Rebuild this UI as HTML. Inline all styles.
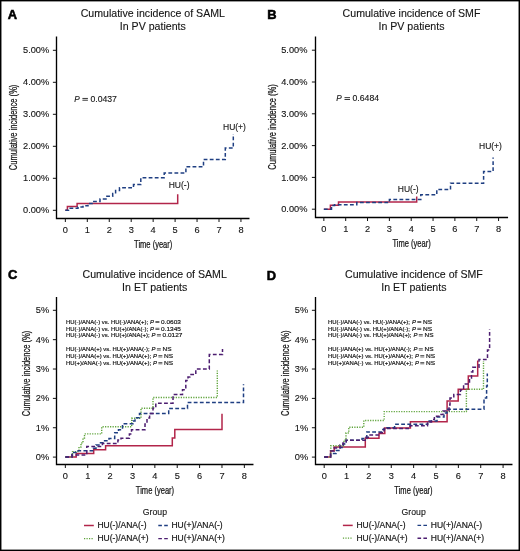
<!DOCTYPE html>
<html><head><meta charset="utf-8"><style>
html,body{margin:0;padding:0;background:#fff;width:520px;height:551px;overflow:hidden}
svg{will-change:transform}
text{font-family:'Liberation Sans', sans-serif}
.sm{stroke:#151515;stroke-width:0.18px}
.md{stroke:#151515;stroke-width:0.12px}
</style></head><body>
<svg width="520" height="551" viewBox="0 0 520 551" style="position:absolute;left:0;top:0">
<g font-family="'Liberation Sans', sans-serif">
<rect x="0" y="0" width="520" height="551" fill="#fff"/>
<path d="M56.50,37.10 L56.50,218.50 L248.80,218.50" fill="none" stroke="#000" stroke-width="1.35" stroke-linecap="square"/>
<line x1="52.90" y1="210.30" x2="56.50" y2="210.30" stroke="#111" stroke-width="1"/>
<text transform="translate(49.20,213.40) scale(1.05,1)" font-size="8.8" text-anchor="end" fill="#151515" class="md">0.00%</text>
<line x1="52.90" y1="178.30" x2="56.50" y2="178.30" stroke="#111" stroke-width="1"/>
<text transform="translate(49.20,181.40) scale(1.05,1)" font-size="8.8" text-anchor="end" fill="#151515" class="md">1.00%</text>
<line x1="52.90" y1="146.30" x2="56.50" y2="146.30" stroke="#111" stroke-width="1"/>
<text transform="translate(49.20,149.40) scale(1.05,1)" font-size="8.8" text-anchor="end" fill="#151515" class="md">2.00%</text>
<line x1="52.90" y1="114.30" x2="56.50" y2="114.30" stroke="#111" stroke-width="1"/>
<text transform="translate(49.20,117.40) scale(1.05,1)" font-size="8.8" text-anchor="end" fill="#151515" class="md">3.00%</text>
<line x1="52.90" y1="82.30" x2="56.50" y2="82.30" stroke="#111" stroke-width="1"/>
<text transform="translate(49.20,85.40) scale(1.05,1)" font-size="8.8" text-anchor="end" fill="#151515" class="md">4.00%</text>
<line x1="52.90" y1="50.30" x2="56.50" y2="50.30" stroke="#111" stroke-width="1"/>
<text transform="translate(49.20,53.40) scale(1.05,1)" font-size="8.8" text-anchor="end" fill="#151515" class="md">5.00%</text>
<line x1="65.35" y1="218.50" x2="65.35" y2="222.00" stroke="#111" stroke-width="1"/>
<text transform="translate(65.35,233.10) scale(1.05,1)" font-size="8.8" text-anchor="middle" fill="#151515" class="md">0</text>
<line x1="87.30" y1="218.50" x2="87.30" y2="222.00" stroke="#111" stroke-width="1"/>
<text transform="translate(87.30,233.10) scale(1.05,1)" font-size="8.8" text-anchor="middle" fill="#151515" class="md">1</text>
<line x1="109.25" y1="218.50" x2="109.25" y2="222.00" stroke="#111" stroke-width="1"/>
<text transform="translate(109.25,233.10) scale(1.05,1)" font-size="8.8" text-anchor="middle" fill="#151515" class="md">2</text>
<line x1="131.20" y1="218.50" x2="131.20" y2="222.00" stroke="#111" stroke-width="1"/>
<text transform="translate(131.20,233.10) scale(1.05,1)" font-size="8.8" text-anchor="middle" fill="#151515" class="md">3</text>
<line x1="153.15" y1="218.50" x2="153.15" y2="222.00" stroke="#111" stroke-width="1"/>
<text transform="translate(153.15,233.10) scale(1.05,1)" font-size="8.8" text-anchor="middle" fill="#151515" class="md">4</text>
<line x1="175.10" y1="218.50" x2="175.10" y2="222.00" stroke="#111" stroke-width="1"/>
<text transform="translate(175.10,233.10) scale(1.05,1)" font-size="8.8" text-anchor="middle" fill="#151515" class="md">5</text>
<line x1="197.05" y1="218.50" x2="197.05" y2="222.00" stroke="#111" stroke-width="1"/>
<text transform="translate(197.05,233.10) scale(1.05,1)" font-size="8.8" text-anchor="middle" fill="#151515" class="md">6</text>
<line x1="219.00" y1="218.50" x2="219.00" y2="222.00" stroke="#111" stroke-width="1"/>
<text transform="translate(219.00,233.10) scale(1.05,1)" font-size="8.8" text-anchor="middle" fill="#151515" class="md">7</text>
<line x1="240.95" y1="218.50" x2="240.95" y2="222.00" stroke="#111" stroke-width="1"/>
<text transform="translate(240.95,233.10) scale(1.05,1)" font-size="8.8" text-anchor="middle" fill="#151515" class="md">8</text>
<text transform="translate(153.20,247.60) scale(0.72,1)" x="0" y="0" font-size="10.5" text-anchor="middle" fill="#151515" stroke="#151515" stroke-width="0.25">Time (year)</text>
<text transform="translate(17.40,127.40) rotate(-90) scale(0.72,1)" x="0" y="0" font-size="10.5" text-anchor="middle" fill="#151515" stroke="#151515" stroke-width="0.25">Cumulative incidence (%)</text>
<text x="152.80" y="17.10" font-size="10.6" text-anchor="middle" font-weight="normal" fill="#151515"  style="" class="md">Cumulative incidence of SAML</text>
<text x="152.80" y="30.20" font-size="10.6" text-anchor="middle" font-weight="normal" fill="#151515"  style="" class="md">In PV patients</text>
<text x="7.80" y="18.80" font-size="12.9" text-anchor="start" font-weight="bold" fill="#000" stroke="#000" stroke-width="0.55" style="">A</text>
<path d="M315.50,37.10 L315.50,217.50 L507.40,217.50" fill="none" stroke="#000" stroke-width="1.35" stroke-linecap="square"/>
<line x1="311.90" y1="209.20" x2="315.50" y2="209.20" stroke="#111" stroke-width="1"/>
<text transform="translate(307.40,212.30) scale(1.05,1)" font-size="8.8" text-anchor="end" fill="#151515" class="md">0.00%</text>
<line x1="311.90" y1="177.40" x2="315.50" y2="177.40" stroke="#111" stroke-width="1"/>
<text transform="translate(307.40,180.50) scale(1.05,1)" font-size="8.8" text-anchor="end" fill="#151515" class="md">1.00%</text>
<line x1="311.90" y1="145.60" x2="315.50" y2="145.60" stroke="#111" stroke-width="1"/>
<text transform="translate(307.40,148.70) scale(1.05,1)" font-size="8.8" text-anchor="end" fill="#151515" class="md">2.00%</text>
<line x1="311.90" y1="113.80" x2="315.50" y2="113.80" stroke="#111" stroke-width="1"/>
<text transform="translate(307.40,116.90) scale(1.05,1)" font-size="8.8" text-anchor="end" fill="#151515" class="md">3.00%</text>
<line x1="311.90" y1="82.00" x2="315.50" y2="82.00" stroke="#111" stroke-width="1"/>
<text transform="translate(307.40,85.10) scale(1.05,1)" font-size="8.8" text-anchor="end" fill="#151515" class="md">4.00%</text>
<line x1="311.90" y1="50.20" x2="315.50" y2="50.20" stroke="#111" stroke-width="1"/>
<text transform="translate(307.40,53.30) scale(1.05,1)" font-size="8.8" text-anchor="end" fill="#151515" class="md">5.00%</text>
<line x1="323.85" y1="217.50" x2="323.85" y2="221.00" stroke="#111" stroke-width="1"/>
<text transform="translate(323.85,232.10) scale(1.05,1)" font-size="8.8" text-anchor="middle" fill="#151515" class="md">0</text>
<line x1="345.69" y1="217.50" x2="345.69" y2="221.00" stroke="#111" stroke-width="1"/>
<text transform="translate(345.69,232.10) scale(1.05,1)" font-size="8.8" text-anchor="middle" fill="#151515" class="md">1</text>
<line x1="367.53" y1="217.50" x2="367.53" y2="221.00" stroke="#111" stroke-width="1"/>
<text transform="translate(367.53,232.10) scale(1.05,1)" font-size="8.8" text-anchor="middle" fill="#151515" class="md">2</text>
<line x1="389.37" y1="217.50" x2="389.37" y2="221.00" stroke="#111" stroke-width="1"/>
<text transform="translate(389.37,232.10) scale(1.05,1)" font-size="8.8" text-anchor="middle" fill="#151515" class="md">3</text>
<line x1="411.21" y1="217.50" x2="411.21" y2="221.00" stroke="#111" stroke-width="1"/>
<text transform="translate(411.21,232.10) scale(1.05,1)" font-size="8.8" text-anchor="middle" fill="#151515" class="md">4</text>
<line x1="433.05" y1="217.50" x2="433.05" y2="221.00" stroke="#111" stroke-width="1"/>
<text transform="translate(433.05,232.10) scale(1.05,1)" font-size="8.8" text-anchor="middle" fill="#151515" class="md">5</text>
<line x1="454.89" y1="217.50" x2="454.89" y2="221.00" stroke="#111" stroke-width="1"/>
<text transform="translate(454.89,232.10) scale(1.05,1)" font-size="8.8" text-anchor="middle" fill="#151515" class="md">6</text>
<line x1="476.73" y1="217.50" x2="476.73" y2="221.00" stroke="#111" stroke-width="1"/>
<text transform="translate(476.73,232.10) scale(1.05,1)" font-size="8.8" text-anchor="middle" fill="#151515" class="md">7</text>
<line x1="498.57" y1="217.50" x2="498.57" y2="221.00" stroke="#111" stroke-width="1"/>
<text transform="translate(498.57,232.10) scale(1.05,1)" font-size="8.8" text-anchor="middle" fill="#151515" class="md">8</text>
<text transform="translate(411.60,246.70) scale(0.72,1)" x="0" y="0" font-size="10.5" text-anchor="middle" fill="#151515" stroke="#151515" stroke-width="0.25">Time (year)</text>
<text transform="translate(276.30,127.00) rotate(-90) scale(0.72,1)" x="0" y="0" font-size="10.5" text-anchor="middle" fill="#151515" stroke="#151515" stroke-width="0.25">Cumulative incidence (%)</text>
<text x="411.50" y="17.10" font-size="10.6" text-anchor="middle" font-weight="normal" fill="#151515"  style="" class="md">Cumulative incidence of SMF</text>
<text x="411.50" y="30.20" font-size="10.6" text-anchor="middle" font-weight="normal" fill="#151515"  style="" class="md">In PV patients</text>
<text x="267.20" y="18.80" font-size="12.9" text-anchor="start" font-weight="bold" fill="#000" stroke="#000" stroke-width="0.55" style="">B</text>
<path d="M56.50,297.60 L56.50,464.50 L252.80,464.50" fill="none" stroke="#000" stroke-width="1.35" stroke-linecap="square"/>
<line x1="52.90" y1="457.10" x2="56.50" y2="457.10" stroke="#111" stroke-width="1"/>
<text transform="translate(49.20,460.20) scale(1.05,1)" font-size="8.8" text-anchor="end" fill="#151515" class="md">0%</text>
<line x1="52.90" y1="427.74" x2="56.50" y2="427.74" stroke="#111" stroke-width="1"/>
<text transform="translate(49.20,430.84) scale(1.05,1)" font-size="8.8" text-anchor="end" fill="#151515" class="md">1%</text>
<line x1="52.90" y1="398.38" x2="56.50" y2="398.38" stroke="#111" stroke-width="1"/>
<text transform="translate(49.20,401.48) scale(1.05,1)" font-size="8.8" text-anchor="end" fill="#151515" class="md">2%</text>
<line x1="52.90" y1="369.02" x2="56.50" y2="369.02" stroke="#111" stroke-width="1"/>
<text transform="translate(49.20,372.12) scale(1.05,1)" font-size="8.8" text-anchor="end" fill="#151515" class="md">3%</text>
<line x1="52.90" y1="339.66" x2="56.50" y2="339.66" stroke="#111" stroke-width="1"/>
<text transform="translate(49.20,342.76) scale(1.05,1)" font-size="8.8" text-anchor="end" fill="#151515" class="md">4%</text>
<line x1="52.90" y1="310.30" x2="56.50" y2="310.30" stroke="#111" stroke-width="1"/>
<text transform="translate(49.20,313.40) scale(1.05,1)" font-size="8.8" text-anchor="end" fill="#151515" class="md">5%</text>
<line x1="65.35" y1="464.50" x2="65.35" y2="468.00" stroke="#111" stroke-width="1"/>
<text transform="translate(65.35,479.00) scale(1.05,1)" font-size="8.8" text-anchor="middle" fill="#151515" class="md">0</text>
<line x1="87.72" y1="464.50" x2="87.72" y2="468.00" stroke="#111" stroke-width="1"/>
<text transform="translate(87.72,479.00) scale(1.05,1)" font-size="8.8" text-anchor="middle" fill="#151515" class="md">1</text>
<line x1="110.10" y1="464.50" x2="110.10" y2="468.00" stroke="#111" stroke-width="1"/>
<text transform="translate(110.10,479.00) scale(1.05,1)" font-size="8.8" text-anchor="middle" fill="#151515" class="md">2</text>
<line x1="132.47" y1="464.50" x2="132.47" y2="468.00" stroke="#111" stroke-width="1"/>
<text transform="translate(132.47,479.00) scale(1.05,1)" font-size="8.8" text-anchor="middle" fill="#151515" class="md">3</text>
<line x1="154.85" y1="464.50" x2="154.85" y2="468.00" stroke="#111" stroke-width="1"/>
<text transform="translate(154.85,479.00) scale(1.05,1)" font-size="8.8" text-anchor="middle" fill="#151515" class="md">4</text>
<line x1="177.22" y1="464.50" x2="177.22" y2="468.00" stroke="#111" stroke-width="1"/>
<text transform="translate(177.22,479.00) scale(1.05,1)" font-size="8.8" text-anchor="middle" fill="#151515" class="md">5</text>
<line x1="199.60" y1="464.50" x2="199.60" y2="468.00" stroke="#111" stroke-width="1"/>
<text transform="translate(199.60,479.00) scale(1.05,1)" font-size="8.8" text-anchor="middle" fill="#151515" class="md">6</text>
<line x1="221.97" y1="464.50" x2="221.97" y2="468.00" stroke="#111" stroke-width="1"/>
<text transform="translate(221.97,479.00) scale(1.05,1)" font-size="8.8" text-anchor="middle" fill="#151515" class="md">7</text>
<line x1="244.35" y1="464.50" x2="244.35" y2="468.00" stroke="#111" stroke-width="1"/>
<text transform="translate(244.35,479.00) scale(1.05,1)" font-size="8.8" text-anchor="middle" fill="#151515" class="md">8</text>
<text transform="translate(155.00,494.10) scale(0.72,1)" x="0" y="0" font-size="10.5" text-anchor="middle" fill="#151515" stroke="#151515" stroke-width="0.25">Time (year)</text>
<text transform="translate(30.40,373.50) rotate(-90) scale(0.72,1)" x="0" y="0" font-size="10.5" text-anchor="middle" fill="#151515" stroke="#151515" stroke-width="0.25">Cumulative incidence (%)</text>
<text x="154.70" y="277.60" font-size="10.6" text-anchor="middle" font-weight="normal" fill="#151515"  style="" class="md">Cumulative incidence of SAML</text>
<text x="154.70" y="290.50" font-size="10.6" text-anchor="middle" font-weight="normal" fill="#151515"  style="" class="md">In ET patients</text>
<text x="8.00" y="279.10" font-size="12.9" text-anchor="start" font-weight="bold" fill="#000" stroke="#000" stroke-width="0.55" style="">C</text>
<path d="M315.50,297.60 L315.50,464.50 L511.80,464.50" fill="none" stroke="#000" stroke-width="1.35" stroke-linecap="square"/>
<line x1="311.90" y1="457.10" x2="315.50" y2="457.10" stroke="#111" stroke-width="1"/>
<text transform="translate(308.10,460.20) scale(1.05,1)" font-size="8.8" text-anchor="end" fill="#151515" class="md">0%</text>
<line x1="311.90" y1="427.74" x2="315.50" y2="427.74" stroke="#111" stroke-width="1"/>
<text transform="translate(308.10,430.84) scale(1.05,1)" font-size="8.8" text-anchor="end" fill="#151515" class="md">1%</text>
<line x1="311.90" y1="398.38" x2="315.50" y2="398.38" stroke="#111" stroke-width="1"/>
<text transform="translate(308.10,401.48) scale(1.05,1)" font-size="8.8" text-anchor="end" fill="#151515" class="md">2%</text>
<line x1="311.90" y1="369.02" x2="315.50" y2="369.02" stroke="#111" stroke-width="1"/>
<text transform="translate(308.10,372.12) scale(1.05,1)" font-size="8.8" text-anchor="end" fill="#151515" class="md">3%</text>
<line x1="311.90" y1="339.66" x2="315.50" y2="339.66" stroke="#111" stroke-width="1"/>
<text transform="translate(308.10,342.76) scale(1.05,1)" font-size="8.8" text-anchor="end" fill="#151515" class="md">4%</text>
<line x1="311.90" y1="310.30" x2="315.50" y2="310.30" stroke="#111" stroke-width="1"/>
<text transform="translate(308.10,313.40) scale(1.05,1)" font-size="8.8" text-anchor="end" fill="#151515" class="md">5%</text>
<line x1="324.20" y1="464.50" x2="324.20" y2="468.00" stroke="#111" stroke-width="1"/>
<text transform="translate(324.20,479.00) scale(1.05,1)" font-size="8.8" text-anchor="middle" fill="#151515" class="md">0</text>
<line x1="346.56" y1="464.50" x2="346.56" y2="468.00" stroke="#111" stroke-width="1"/>
<text transform="translate(346.56,479.00) scale(1.05,1)" font-size="8.8" text-anchor="middle" fill="#151515" class="md">1</text>
<line x1="368.92" y1="464.50" x2="368.92" y2="468.00" stroke="#111" stroke-width="1"/>
<text transform="translate(368.92,479.00) scale(1.05,1)" font-size="8.8" text-anchor="middle" fill="#151515" class="md">2</text>
<line x1="391.28" y1="464.50" x2="391.28" y2="468.00" stroke="#111" stroke-width="1"/>
<text transform="translate(391.28,479.00) scale(1.05,1)" font-size="8.8" text-anchor="middle" fill="#151515" class="md">3</text>
<line x1="413.64" y1="464.50" x2="413.64" y2="468.00" stroke="#111" stroke-width="1"/>
<text transform="translate(413.64,479.00) scale(1.05,1)" font-size="8.8" text-anchor="middle" fill="#151515" class="md">4</text>
<line x1="436.00" y1="464.50" x2="436.00" y2="468.00" stroke="#111" stroke-width="1"/>
<text transform="translate(436.00,479.00) scale(1.05,1)" font-size="8.8" text-anchor="middle" fill="#151515" class="md">5</text>
<line x1="458.36" y1="464.50" x2="458.36" y2="468.00" stroke="#111" stroke-width="1"/>
<text transform="translate(458.36,479.00) scale(1.05,1)" font-size="8.8" text-anchor="middle" fill="#151515" class="md">6</text>
<line x1="480.72" y1="464.50" x2="480.72" y2="468.00" stroke="#111" stroke-width="1"/>
<text transform="translate(480.72,479.00) scale(1.05,1)" font-size="8.8" text-anchor="middle" fill="#151515" class="md">7</text>
<line x1="503.08" y1="464.50" x2="503.08" y2="468.00" stroke="#111" stroke-width="1"/>
<text transform="translate(503.08,479.00) scale(1.05,1)" font-size="8.8" text-anchor="middle" fill="#151515" class="md">8</text>
<text transform="translate(413.50,494.10) scale(0.72,1)" x="0" y="0" font-size="10.5" text-anchor="middle" fill="#151515" stroke="#151515" stroke-width="0.25">Time (year)</text>
<text transform="translate(289.20,373.30) rotate(-90) scale(0.72,1)" x="0" y="0" font-size="10.5" text-anchor="middle" fill="#151515" stroke="#151515" stroke-width="0.25">Cumulative incidence (%)</text>
<text x="413.90" y="277.60" font-size="10.6" text-anchor="middle" font-weight="normal" fill="#151515"  style="" class="md">Cumulative incidence of SMF</text>
<text x="413.90" y="290.60" font-size="10.6" text-anchor="middle" font-weight="normal" fill="#151515"  style="" class="md">In ET patients</text>
<text x="266.80" y="279.80" font-size="12.9" text-anchor="start" font-weight="bold" fill="#000" stroke="#000" stroke-width="0.55" style="">D</text>
<path d="M65.35,210.30 L67.40,210.30 L67.40,206.60 L77.10,206.60 L77.10,203.40 L177.70,203.40 L177.70,194.20" fill="none" stroke="#b2254a" stroke-width="1.5" stroke-linecap="butt" stroke-linejoin="miter"/>
<path d="M65.35,210.30 L68.50,210.30 L68.50,208.30 L78.00,208.30 L78.00,207.00 L83.00,207.00 L83.00,205.80 L88.00,205.80 L88.00,203.50 L93.00,203.50 L93.00,201.40 L100.00,201.40 L100.00,198.90 L106.00,198.90 L106.00,196.20 L112.70,196.20 L112.70,193.50 L115.60,193.50 L115.60,190.40 L119.50,190.40 L119.50,187.80 L133.50,187.80 L133.50,184.60 L140.80,184.60 L140.80,177.70 L164.20,177.70 L164.20,173.00 L185.90,173.00 L185.90,166.70 L203.50,166.70 L203.50,159.50 L225.30,159.50 L225.30,148.10 L233.30,148.10 L233.30,134.00" fill="none" stroke="#1f3f82" stroke-width="1.5" stroke-dasharray="3.8 2.3" stroke-linecap="butt" stroke-linejoin="miter"/>
<path d="M323.85,209.20 L330.40,209.20 L330.40,205.30 L338.50,205.30 L338.50,202.00 L416.70,202.00 L416.70,196.50" fill="none" stroke="#b2254a" stroke-width="1.5" stroke-linecap="butt" stroke-linejoin="miter"/>
<path d="M323.85,209.20 L331.50,209.20 L331.50,205.50 L334.60,205.50 L334.60,204.80 L356.80,204.80 L356.80,202.60 L389.40,202.60 L389.40,199.40 L420.80,199.40 L420.80,194.80 L436.80,194.80 L436.80,189.50 L450.50,189.50 L450.50,183.20 L483.60,183.20 L483.60,171.50 L493.10,171.50 L493.10,157.50" fill="none" stroke="#1f3f82" stroke-width="1.5" stroke-dasharray="3.8 2.3" stroke-linecap="butt" stroke-linejoin="miter"/>
<path d="M65.35,457.10 L76.20,457.10 L76.20,453.60 L93.70,453.60 L93.70,449.80 L105.60,449.80 L105.60,445.70 L172.30,445.70 L172.30,437.90 L174.80,437.90 L174.80,429.50 L222.00,429.50 L222.00,413.70" fill="none" stroke="#b2254a" stroke-width="1.5" stroke-linecap="butt" stroke-linejoin="miter"/>
<path d="M65.35,457.10 L72.50,457.10 L72.50,451.60 L79.00,451.60 L79.00,447.00 L81.00,447.00 L81.00,443.00 L83.00,443.00 L83.00,438.00 L84.50,438.00 L84.50,433.90 L101.70,433.90 L101.70,426.80 L131.70,426.80 L131.70,418.30 L141.00,418.30 L141.00,408.20 L153.00,408.20 L153.00,397.50 L217.30,397.50 L217.30,370.60" fill="none" stroke="#5ea33a" stroke-width="1.4" stroke-dasharray="1.2 1.3" stroke-linecap="butt" stroke-linejoin="miter"/>
<path d="M65.35,457.10 L72.00,457.10 L72.00,452.50 L76.00,452.50 L76.00,450.80 L93.50,450.80 L93.50,448.20 L96.00,448.20 L96.00,445.00 L100.50,445.00 L100.50,442.80 L104.60,442.80 L104.60,440.70 L109.00,440.70 L109.00,438.50 L114.70,438.50 L114.70,432.70 L118.50,432.70 L118.50,429.80 L122.50,429.80 L122.50,423.80 L133.00,423.80 L133.00,421.00 L135.00,421.00 L135.00,417.70 L139.50,417.70 L139.50,413.40 L168.70,413.40 L168.70,408.40 L187.50,408.40 L187.50,402.50 L243.50,402.50 L243.50,384.20" fill="none" stroke="#1f3f82" stroke-width="1.5" stroke-dasharray="3.8 2.3" stroke-linecap="butt" stroke-linejoin="miter"/>
<path d="M65.35,457.10 L72.00,457.10 L72.00,455.00 L86.80,455.00 L86.80,446.50 L102.40,446.50 L102.40,443.60 L117.90,443.60 L117.90,440.00 L121.00,440.00 L121.00,438.20 L129.40,438.20 L129.40,434.00 L131.50,434.00 L131.50,429.80 L145.00,429.80 L145.00,424.00 L147.00,424.00 L147.00,418.00 L149.60,418.00 L149.60,413.40 L153.00,413.40 L153.00,408.00 L155.80,408.00 L155.80,403.30 L173.00,403.30 L173.00,394.60 L182.50,394.60 L182.50,389.80 L185.80,389.80 L185.80,380.50 L188.00,380.50 L188.00,377.00 L189.80,377.00 L189.80,374.60 L195.80,374.60 L195.80,369.00 L209.30,369.00 L209.30,354.50 L222.50,354.50 L222.50,349.00" fill="none" stroke="#4c1d70" stroke-width="1.5" stroke-dasharray="3.8 2.3" stroke-linecap="butt" stroke-linejoin="miter"/>
<path d="M324.20,457.10 L330.60,457.10 L330.60,450.80 L334.20,450.80 L334.20,447.10 L365.30,447.10 L365.30,438.20 L379.00,438.20 L379.00,433.40 L384.80,433.40 L384.80,428.00 L410.40,428.00 L410.40,421.80 L447.10,421.80 L447.10,401.10 L458.20,401.10 L458.20,389.30 L468.30,389.30 L468.30,376.00 L477.70,376.00 L477.70,360.40" fill="none" stroke="#b2254a" stroke-width="1.5" stroke-linecap="butt" stroke-linejoin="miter"/>
<path d="M324.20,457.10 L330.80,457.10 L330.80,445.80 L344.00,445.80 L344.00,440.00 L346.00,440.00 L346.00,433.00 L348.80,433.00 L348.80,427.20 L363.80,427.20 L363.80,420.50 L384.20,420.50 L384.20,411.60 L466.40,411.60 L466.40,389.30 L483.50,389.30 L483.50,361.00" fill="none" stroke="#5ea33a" stroke-width="1.4" stroke-dasharray="1.2 1.3" stroke-linecap="butt" stroke-linejoin="miter"/>
<path d="M324.20,457.10 L330.60,457.10 L330.60,453.50 L336.00,453.50 L336.00,450.50 L340.00,450.50 L340.00,447.50 L343.00,447.50 L343.00,444.00 L346.20,444.00 L346.20,440.20 L362.00,440.20 L362.00,438.60 L366.80,438.60 L366.80,431.90 L381.50,431.90 L381.50,429.60 L384.50,429.60 L384.50,427.70 L394.60,427.70 L394.60,424.30 L427.70,424.30 L427.70,421.00 L437.00,421.00 L437.00,417.00 L444.00,417.00 L444.00,413.00 L447.00,413.00 L447.00,409.20 L484.00,409.20 L484.00,398.00 L486.60,398.00 L486.60,386.00 L487.30,386.00 L487.30,373.60" fill="none" stroke="#1f3f82" stroke-width="1.5" stroke-dasharray="3.8 2.3" stroke-linecap="butt" stroke-linejoin="miter"/>
<path d="M324.20,457.10 L330.60,457.10 L330.60,451.00 L334.00,451.00 L334.00,448.00 L340.00,448.00 L340.00,445.00 L343.00,445.00 L343.00,443.00 L346.20,443.00 L346.20,440.20 L366.00,440.20 L366.00,437.20 L369.30,437.20 L369.30,435.10 L378.50,435.10 L378.50,432.80 L384.00,432.80 L384.00,428.40 L410.00,428.40 L410.00,425.80 L427.50,425.80 L427.50,422.00 L431.50,422.00 L431.50,419.50 L434.40,419.50 L434.40,416.20 L441.00,416.20 L441.00,414.50 L443.00,414.50 L443.00,411.00 L449.00,411.00 L449.00,405.00 L450.00,405.00 L450.00,398.00 L453.80,398.00 L453.80,394.40 L460.40,394.40 L460.40,390.00 L463.60,390.00 L463.60,384.00 L469.50,384.00 L469.50,378.00 L471.50,378.00 L471.50,372.00 L472.80,372.00 L472.80,367.30 L479.00,367.30 L479.00,359.60 L487.50,359.60 L487.50,350.00 L489.60,350.00 L489.60,329.20" fill="none" stroke="#4c1d70" stroke-width="1.5" stroke-dasharray="3.8 2.3" stroke-linecap="butt" stroke-linejoin="miter"/>
<text x="74.20" y="101.50" font-size="8.2" font-style="italic" fill="#151515" class="md">P</text>
<rect x="82.40" y="97.95" width="5.5" height="0.85" fill="#151515"/>
<rect x="82.40" y="99.75" width="5.5" height="0.85" fill="#151515"/>
<text transform="translate(90.40,101.50) scale(1.06,1)" font-size="8.2" fill="#151515" class="md">0.0437</text>
<text x="336.30" y="100.80" font-size="8.2" font-style="italic" fill="#151515" class="md">P</text>
<rect x="344.50" y="97.25" width="5.5" height="0.85" fill="#151515"/>
<rect x="344.50" y="99.05" width="5.5" height="0.85" fill="#151515"/>
<text transform="translate(352.50,100.80) scale(1.06,1)" font-size="8.2" fill="#151515" class="md">0.6484</text>
<text x="223.00" y="129.80" font-size="8.5" text-anchor="start" font-weight="normal" fill="#151515"  style="" class="md">HU(+)</text>
<text x="168.70" y="187.90" font-size="8.5" text-anchor="start" font-weight="normal" fill="#151515"  style="" class="md">HU(-)</text>
<text x="479.00" y="149.20" font-size="8.5" text-anchor="start" font-weight="normal" fill="#151515"  style="" class="md">HU(+)</text>
<text x="397.80" y="191.70" font-size="8.5" text-anchor="start" font-weight="normal" fill="#151515"  style="" class="md">HU(-)</text>
<text x="66.10" y="323.80" font-size="5.9" fill="#151515" class="sm">HU(-)/ANA(-) vs. HU(-)/ANA(+);</text>
<text x="150.10" y="323.80" font-size="5.9" font-style="italic" fill="#151515" class="sm">P</text>
<rect x="155.40" y="321.05" width="4.0" height="0.65" fill="#151515"/>
<rect x="155.40" y="322.35" width="4.0" height="0.65" fill="#151515"/>
<text transform="translate(161.10,323.80) scale(1.1,1)" font-size="5.9" fill="#151515" class="sm">0.0603</text>
<text x="66.10" y="330.60" font-size="5.9" fill="#151515" class="sm">HU(-)/ANA(-) vs. HU(+)/ANA(-);</text>
<text x="150.10" y="330.60" font-size="5.9" font-style="italic" fill="#151515" class="sm">P</text>
<rect x="155.40" y="327.85" width="4.0" height="0.65" fill="#151515"/>
<rect x="155.40" y="329.15" width="4.0" height="0.65" fill="#151515"/>
<text transform="translate(161.10,330.60) scale(1.1,1)" font-size="5.9" fill="#151515" class="sm">0.1345</text>
<text x="66.10" y="337.10" font-size="5.9" fill="#151515" class="sm">HU(-)/ANA(-) vs. HU(+)/ANA(+);</text>
<text x="151.58" y="337.10" font-size="5.9" font-style="italic" fill="#151515" class="sm">P</text>
<rect x="156.88" y="334.35" width="4.0" height="0.65" fill="#151515"/>
<rect x="156.88" y="335.65" width="4.0" height="0.65" fill="#151515"/>
<text transform="translate(162.58,337.10) scale(1.1,1)" font-size="5.9" fill="#151515" class="sm">0.0127</text>
<text x="66.10" y="351.20" font-size="5.9" fill="#151515" class="sm">HU(-)/ANA(+) vs. HU(+)/ANA(-);</text>
<text x="151.58" y="351.20" font-size="5.9" font-style="italic" fill="#151515" class="sm">P</text>
<rect x="156.88" y="348.45" width="4.0" height="0.65" fill="#151515"/>
<rect x="156.88" y="349.75" width="4.0" height="0.65" fill="#151515"/>
<text transform="translate(162.58,351.20) scale(1.1,1)" font-size="5.9" fill="#151515" class="sm">NS</text>
<text x="66.10" y="358.10" font-size="5.9" fill="#151515" class="sm">HU(-)/ANA(+) vs. HU(+)/ANA(+);</text>
<text x="153.06" y="358.10" font-size="5.9" font-style="italic" fill="#151515" class="sm">P</text>
<rect x="158.36" y="355.35" width="4.0" height="0.65" fill="#151515"/>
<rect x="158.36" y="356.65" width="4.0" height="0.65" fill="#151515"/>
<text transform="translate(164.06,358.10) scale(1.1,1)" font-size="5.9" fill="#151515" class="sm">NS</text>
<text x="66.10" y="365.00" font-size="5.9" fill="#151515" class="sm">HU(+)/ANA(-) vs. HU(+)/ANA(+);</text>
<text x="153.06" y="365.00" font-size="5.9" font-style="italic" fill="#151515" class="sm">P</text>
<rect x="158.36" y="362.25" width="4.0" height="0.65" fill="#151515"/>
<rect x="158.36" y="363.55" width="4.0" height="0.65" fill="#151515"/>
<text transform="translate(164.06,365.00) scale(1.1,1)" font-size="5.9" fill="#151515" class="sm">NS</text>
<text x="328.00" y="323.80" font-size="5.9" fill="#151515" class="sm">HU(-)/ANA(-) vs. HU(-)/ANA(+);</text>
<text x="412.00" y="323.80" font-size="5.9" font-style="italic" fill="#151515" class="sm">P</text>
<rect x="417.30" y="321.05" width="4.0" height="0.65" fill="#151515"/>
<rect x="417.30" y="322.35" width="4.0" height="0.65" fill="#151515"/>
<text transform="translate(423.00,323.80) scale(1.1,1)" font-size="5.9" fill="#151515" class="sm">NS</text>
<text x="328.00" y="330.60" font-size="5.9" fill="#151515" class="sm">HU(-)/ANA(-) vs. HU(+)/ANA(-);</text>
<text x="412.00" y="330.60" font-size="5.9" font-style="italic" fill="#151515" class="sm">P</text>
<rect x="417.30" y="327.85" width="4.0" height="0.65" fill="#151515"/>
<rect x="417.30" y="329.15" width="4.0" height="0.65" fill="#151515"/>
<text transform="translate(423.00,330.60) scale(1.1,1)" font-size="5.9" fill="#151515" class="sm">NS</text>
<text x="328.00" y="337.10" font-size="5.9" fill="#151515" class="sm">HU(-)/ANA(-) vs. HU(+)/ANA(+);</text>
<text x="413.48" y="337.10" font-size="5.9" font-style="italic" fill="#151515" class="sm">P</text>
<rect x="418.78" y="334.35" width="4.0" height="0.65" fill="#151515"/>
<rect x="418.78" y="335.65" width="4.0" height="0.65" fill="#151515"/>
<text transform="translate(424.48,337.10) scale(1.1,1)" font-size="5.9" fill="#151515" class="sm">NS</text>
<text x="328.00" y="351.20" font-size="5.9" fill="#151515" class="sm">HU(-)/ANA(+) vs. HU(+)/ANA(-);</text>
<text x="413.48" y="351.20" font-size="5.9" font-style="italic" fill="#151515" class="sm">P</text>
<rect x="418.78" y="348.45" width="4.0" height="0.65" fill="#151515"/>
<rect x="418.78" y="349.75" width="4.0" height="0.65" fill="#151515"/>
<text transform="translate(424.48,351.20) scale(1.1,1)" font-size="5.9" fill="#151515" class="sm">NS</text>
<text x="328.00" y="358.10" font-size="5.9" fill="#151515" class="sm">HU(-)/ANA(+) vs. HU(+)/ANA(+);</text>
<text x="414.96" y="358.10" font-size="5.9" font-style="italic" fill="#151515" class="sm">P</text>
<rect x="420.26" y="355.35" width="4.0" height="0.65" fill="#151515"/>
<rect x="420.26" y="356.65" width="4.0" height="0.65" fill="#151515"/>
<text transform="translate(425.96,358.10) scale(1.1,1)" font-size="5.9" fill="#151515" class="sm">NS</text>
<text x="328.00" y="365.00" font-size="5.9" fill="#151515" class="sm">HU(+)/ANA(-) vs. HU(+)/ANA(+);</text>
<text x="414.96" y="365.00" font-size="5.9" font-style="italic" fill="#151515" class="sm">P</text>
<rect x="420.26" y="362.25" width="4.0" height="0.65" fill="#151515"/>
<rect x="420.26" y="363.55" width="4.0" height="0.65" fill="#151515"/>
<text transform="translate(425.96,365.00) scale(1.1,1)" font-size="5.9" fill="#151515" class="sm">NS</text>
<text x="154.90" y="514.80" font-size="8.7" text-anchor="middle" font-weight="normal" fill="#151515"  style="" class="md">Group</text>
<path d="M84.00,525.50 L93.80,525.50" fill="none" stroke="#b2254a" stroke-width="1.5" stroke-linecap="butt" stroke-linejoin="miter"/>
<path d="M84.00,538.60 L93.80,538.60" fill="none" stroke="#5ea33a" stroke-width="1.3" stroke-dasharray="1.2 1.3" stroke-linecap="butt" stroke-linejoin="miter"/>
<path d="M158.30,525.50 L168.10,525.50" fill="none" stroke="#1f3f82" stroke-width="1.4" stroke-dasharray="3.6 2.3" stroke-linecap="butt" stroke-linejoin="miter"/>
<path d="M158.30,538.60 L168.10,538.60" fill="none" stroke="#4c1d70" stroke-width="1.4" stroke-dasharray="3.6 2.3" stroke-linecap="butt" stroke-linejoin="miter"/>
<text x="97.40" y="527.90" font-size="8.5" text-anchor="start" font-weight="normal" fill="#151515"  style="" class="sm">HU(-)/ANA(-)</text>
<text x="97.40" y="540.80" font-size="8.5" text-anchor="start" font-weight="normal" fill="#151515"  style="" class="sm">HU(-)/ANA(+)</text>
<text x="171.40" y="527.90" font-size="8.5" text-anchor="start" font-weight="normal" fill="#151515"  style="" class="sm">HU(+)/ANA(-)</text>
<text x="171.40" y="540.80" font-size="8.5" text-anchor="start" font-weight="normal" fill="#151515"  style="" class="sm">HU(+)/ANA(+)</text>
<text x="413.70" y="515.40" font-size="8.7" text-anchor="middle" font-weight="normal" fill="#151515"  style="" class="md">Group</text>
<path d="M342.90,525.40 L352.70,525.40" fill="none" stroke="#b2254a" stroke-width="1.5" stroke-linecap="butt" stroke-linejoin="miter"/>
<path d="M342.90,538.20 L352.70,538.20" fill="none" stroke="#5ea33a" stroke-width="1.3" stroke-dasharray="1.2 1.3" stroke-linecap="butt" stroke-linejoin="miter"/>
<path d="M417.50,525.40 L427.30,525.40" fill="none" stroke="#1f3f82" stroke-width="1.4" stroke-dasharray="3.6 2.3" stroke-linecap="butt" stroke-linejoin="miter"/>
<path d="M417.50,538.20 L427.30,538.20" fill="none" stroke="#4c1d70" stroke-width="1.4" stroke-dasharray="3.6 2.3" stroke-linecap="butt" stroke-linejoin="miter"/>
<text x="356.40" y="527.70" font-size="8.5" text-anchor="start" font-weight="normal" fill="#151515"  style="" class="sm">HU(-)/ANA(-)</text>
<text x="356.40" y="540.80" font-size="8.5" text-anchor="start" font-weight="normal" fill="#151515"  style="" class="sm">HU(-)/ANA(+)</text>
<text x="430.80" y="527.70" font-size="8.5" text-anchor="start" font-weight="normal" fill="#151515"  style="" class="sm">HU(+)/ANA(-)</text>
<text x="430.80" y="540.80" font-size="8.5" text-anchor="start" font-weight="normal" fill="#151515"  style="" class="sm">HU(+)/ANA(+)</text>
<rect x="0" y="0" width="1.45" height="551" fill="#000"/>
<rect x="518.55" y="0" width="1.45" height="551" fill="#000"/>
<rect x="0" y="0" width="520" height="1.4" fill="#000"/>
<rect x="0" y="549.6" width="520" height="1.4" fill="#000"/>
</g></svg>
</body></html>
